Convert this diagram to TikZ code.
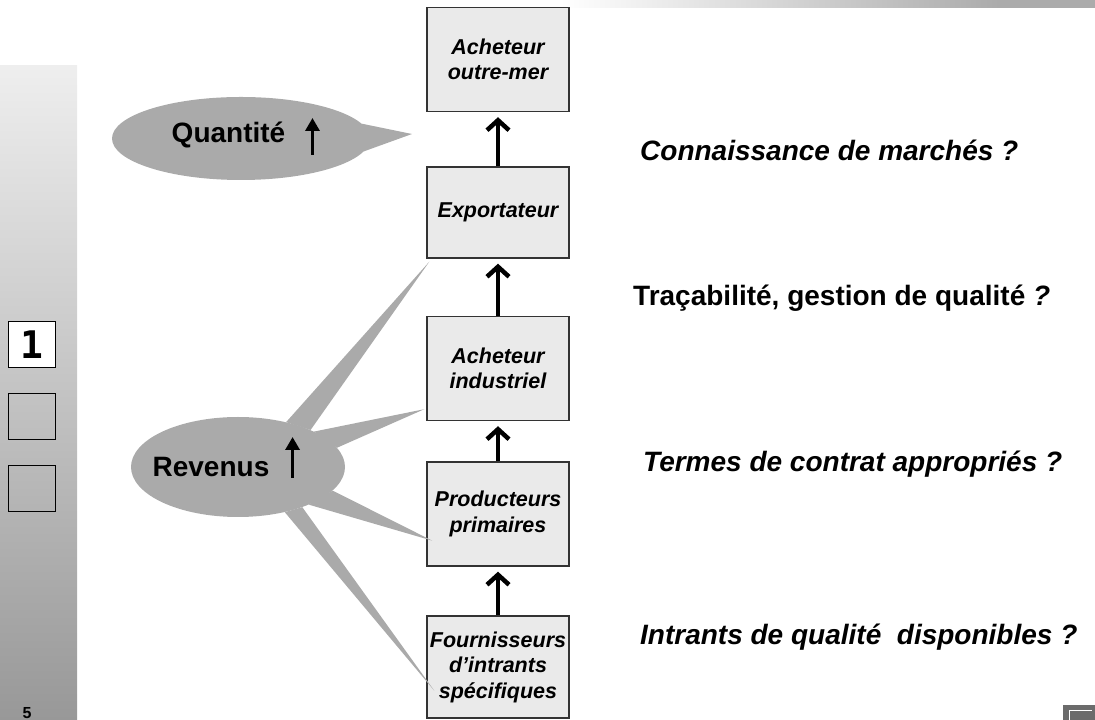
\documentclass[tikz,border=0pt]{standalone}
\usepackage{fontspec}
\setmainfont{Liberation Sans}
\newfontfamily\tabfont{DejaVu Sans Mono}
\usepackage{xcolor}
\usetikzlibrary{arrows.meta}
\usetikzlibrary{shapes.geometric}

\definecolor{boxfill}{RGB}{234,234,234}
\definecolor{bubblegray}{RGB}{170,170,170}
\definecolor{barlight}{RGB}{238,238,238}
\definecolor{bardark}{RGB}{152,152,152}

\tikzset{
  chainbox/.style={draw=black!80, line width=1.4pt, fill=boxfill, inner xsep=1pt,
    minimum width=142pt, minimum height=104pt, align=center,
    font=\fontsize{21.5}{25.5}\selectfont\bfseries\itshape},
  uplink/.style={line width=4.5pt, -{Straight Barb[length=10pt,width=22pt]}, shorten >=5pt},
  bubble/.style={ellipse, fill=bubblegray, inner sep=0pt},
  bubbletext/.style={inner sep=0pt, font=\fontsize{28}{34}\selectfont\bfseries},
  rise/.style={line width=3.5pt, -{Triangle[length=13pt,width=14pt]}},
  question/.style={anchor=west, inner sep=0pt, font=\fontsize{28}{34}\selectfont\bfseries\itshape},
  tabsq/.style={draw, line width=1pt, minimum width=47pt, minimum height=46pt}
}

\begin{document}
\begin{tikzpicture}[x=1pt,y=1pt]
        \useasboundingbox (0,0) rectangle (1095,720);
        % side bar, top bar, corner icon
        \shade[top color=barlight, bottom color=bardark] (0,0) rectangle (77,654);
        \shade[left color=white, right color=black!33] (560,712) rectangle (1000,720);
        \fill[black!33] (1000,712) rectangle (1095,720);
        \fill[black!58] (1063,0) rectangle (1095,15);
        \draw[white, line width=1pt] (1069,0) -- (1069,9) -- (1092,9);
        % tabs
        \node[tabsq, fill=white, font=\tabfont\bfseries\fontsize{38}{38}\selectfont] (tab1) at (31.5,375) {1};
        \node[tabsq] (tab2) at (31.5,303) {};
        \node[tabsq] (tab3) at (31.5,231.5) {};
        \node[font=\fontsize{16}{16}\selectfont\bfseries] (page) at (27,7) {5};
        % chain
        \node[chainbox] (buyer) at (498,660.5) {Acheteur\\outre-mer};
        \node[chainbox, minimum height=91pt] (exporter) at (498,507.5) {Exportateur};
        \node[chainbox] (industry) at (498,351.5) {Acheteur\\industriel};
        \node[chainbox] (producers) at (498,206) {Producteurs\\primaires};
        \node[chainbox, minimum height=102pt] (suppliers) at (498,53) {Fournisseurs\\d’intrants\\spécifiques};
        \draw[uplink] (exporter) -- (buyer);
        \draw[uplink] (industry) -- (exporter);
        \draw[uplink] (producers) -- (industry);
        \draw[uplink] (suppliers) -- (producers);
        % quantity bubble
        \node[bubble, minimum width=258pt, minimum height=83pt] (qty) at (241,581.5) {};
        \coordinate (qtytip) at (412,586);
        \fill[bubblegray] (qty.7) -- (qtytip) -- (qty.-6) -- cycle;
        \node[bubbletext] (qtytxt) at (228.5,585) {Quantité};
        \draw[rise] ([shift={(27,-20)}]qtytxt.east) -- ++(0,37);
        % revenue bubble
        \node[bubble, minimum width=214pt, minimum height=100pt] (rev) at (238,253) {};
        \fill[bubblegray] (rev.43) -- ([shift={(3,-3)}]exporter.south west) -- (rev.27) -- cycle;
        \fill[bubblegray] (rev.25) -- ([shift={(-2,12)}]industry.south west) -- (rev.11) -- cycle;
        \fill[bubblegray] (rev.-14) -- ([shift={(6,26)}]producers.south west) -- (rev.-28) -- cycle;
        \fill[bubblegray] (rev.-32) -- ([shift={(8,28)}]suppliers.south west) -- (rev.-44) -- cycle;
        \node[bubbletext] (revtxt) at (211,253) {Revenus};
        \draw[rise] ([shift={(23,-11)}]revtxt.east) -- ++(0,41);
        % questions
        \node[question] (market) at (640,570) {Connaissance de marchés ?};
        \node[question, font=\fontsize{28}{34}\selectfont\bfseries] (trace) at (633,422) {Traçabilité, gestion de qualité \textit{?}};
        \node[question] (contract) at (643,256) {Termes de contrat appropriés ?};
        \node[question] (inputs) at (640,83) {Intrants de qualité\ \ disponibles ?};
      \end{tikzpicture}
\end{document}
